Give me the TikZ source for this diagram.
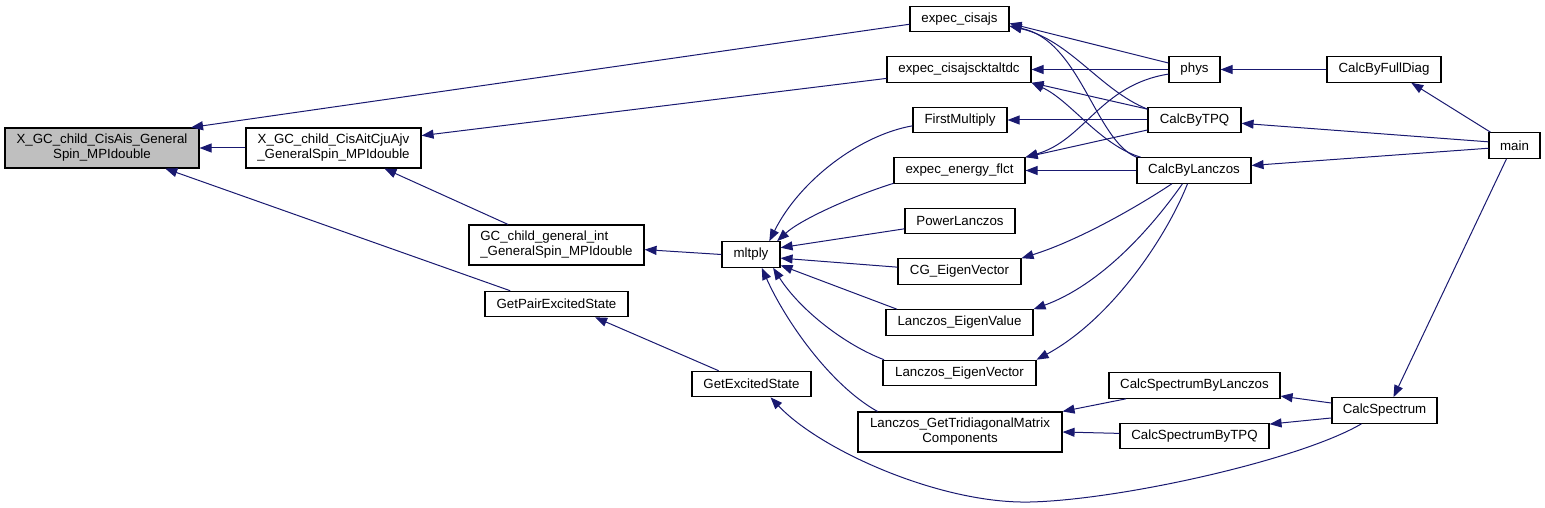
\documentclass[tikz,border=0pt]{standalone}
\usepackage{fontspec}
\setmainfont{Liberation Sans}
\usetikzlibrary{arrows.meta}
\definecolor{edgecol}{HTML}{191970}
\definecolor{fillgray}{HTML}{BFBFBF}
\begin{document}
\begin{tikzpicture}[x=1pt,y=-1pt,
  box/.style={draw=black, line width=1.1pt, fill=white, inner sep=0pt,
    font=\fontsize{13.3}{15}\selectfont, align=center, minimum height=25.5pt},
  tall/.style={minimum height=40pt},
  edge/.style={draw=edgecol, line width=1pt, -{Triangle[length=12pt,width=9pt]}},
]
\useasboundingbox (0,0) rectangle (1545,508);

% nodes
\node[box, tall, fill=fillgray, minimum width=194pt] (cisais) at (102,148) {X\_GC\_child\_CisAis\_General\\Spin\_MPIdouble};
\node[box, tall, minimum width=175pt] (cisait) at (333.5,148) {X\_GC\_child\_CisAitCjuAjv\\\_GeneralSpin\_MPIdouble};
\node[box, tall, minimum width=175pt, align=left] (gcint) at (556.5,245) {GC\_child\_general\_int\\\_GeneralSpin\_MPIdouble};
\node[box, minimum width=143pt] (getpair) at (556.5,304) {GetPairExcitedState};
\node[box, minimum width=119pt] (getexc) at (751.5,384) {GetExcitedState};
\node[box, minimum width=58pt] (mltply) at (751,254.5) {mltply};
\node[box, minimum width=99pt] (cisajs) at (959.5,19) {expec\_cisajs};
\node[box, minimum width=144pt] (cktaltdc) at (959,69.5) {expec\_cisajscktaltdc};
\node[box, minimum width=94pt] (firstmul) at (960,120) {FirstMultiply};
\node[box, minimum width=131pt] (energy) at (959.5,170.5) {expec\_energy\_flct};
\node[box, minimum width=110pt] (power) at (960,221) {PowerLanczos};
\node[box, minimum width=123pt] (cg) at (959.5,271.5) {CG\_EigenVector};
\node[box, minimum width=147pt] (levalue) at (959.5,322.5) {Lanczos\_EigenValue};
\node[box, minimum width=153pt] (levector) at (959.5,373) {Lanczos\_EigenVector};
\node[box, tall, minimum width=204pt] (tridiag) at (960,432) {Lanczos\_GetTridiagonalMatrix\\Components};
\node[box, minimum width=51pt] (phys) at (1194.5,69.5) {phys};
\node[box, minimum width=93pt] (calctpq) at (1194.5,120) {CalcByTPQ};
\node[box, minimum width=114pt] (calclanczos) at (1194,170.5) {CalcByLanczos};
\node[box, minimum width=171pt] (specbylanc) at (1194.5,385.5) {CalcSpectrumByLanczos};
\node[box, minimum width=149pt] (specbytpq) at (1194.5,436) {CalcSpectrumByTPQ};
\node[box, minimum width=114pt] (fulldiag) at (1384,69.5) {CalcByFullDiag};
\node[box, minimum width=105pt] (calcspec) at (1384.5,410.5) {CalcSpectrum};
\node[box, minimum width=51pt] (main) at (1514.5,145.5) {main};

% edges
\draw[edge] (cisait.west) -- (cisais.east);
\draw[edge] (cisajs.186) -- (cisais.13);
\draw[edge] (getpair.164) -- (cisais.-18);
\draw[edge] (cktaltdc.187.5) -- (cisait.8.5);
\draw[edge] (gcint.157) -- (cisait.-22);
\draw[edge] (mltply.west) -- (gcint.-3);
\draw[edge] (getexc.158) -- (getpair.-19);
\draw[edge] (calcspec.210) .. controls (1300,460) and (1120,500) .. (1030,502)
   .. controls (940,504) and (820,450) .. (getexc.-35);
\draw[edge] (firstmul.187) .. controls (860,135) and (800,180) .. (mltply.36);
\draw[edge] (energy.191) .. controls (850,197) and (800,220) .. (mltply.27);
\draw[edge] (power.188) -- (mltply.13);
\draw[edge] (cg.176) -- (mltply.-7);
\draw[edge] (levalue.168) -- (mltply.-20);
\draw[edge] (levector.170) .. controls (845,345) and (800,310) .. (mltply.-31);
\draw[edge] (tridiag.166) .. controls (830,385) and (785,320) .. (mltply.-51);
\draw[edge] (phys.166) -- (cisajs.-5);
\draw[edge] (calctpq.167) .. controls (1100,90) and (1070,40) .. (cisajs.-8);
\draw[edge] (calclanczos.167) .. controls (1095,140) and (1080,40) .. (cisajs.-8);
\draw[edge] (phys.west) -- (cktaltdc.east);
\draw[edge] (calctpq.167) -- (cktaltdc.south east);
\draw[edge] (calclanczos.166) .. controls (1100,145) and (1070,100) .. (cktaltdc.south east);
\draw[edge] (phys.190) .. controls (1100,85) and (1085,140) .. (energy.north east);
\draw[edge] (calctpq.192) -- (energy.north east);
\draw[edge] (calclanczos.west) -- (energy.east);
\draw[edge] (calctpq.west) -- (firstmul.east);
\draw[edge] (calclanczos.211) .. controls (1140,205) and (1080,240) .. (cg.north east);
\draw[edge] (calclanczos.229) .. controls (1150,230) and (1100,285) .. (levalue.north east);
\draw[edge] (calclanczos.244) .. controls (1165,240) and (1110,320) .. (levector.north east);
\draw[edge] (fulldiag.west) -- (phys.east);
\draw[edge] (main.151) -- (fulldiag.-26);
\draw[edge] (main.172) -- (calctpq.-4);
\draw[edge] (main.186) -- (calclanczos.5.5);
\draw[edge] (main.239) -- (calcspec.56);
\draw[edge] (specbylanc.191) -- (tridiag.north east);
\draw[edge] (specbytpq.178) -- (tridiag.east);
\draw[edge] (calcspec.172) -- (specbylanc.-7.7);
\draw[edge] (calcspec.188) -- (specbytpq.9);
\end{tikzpicture}
\end{document}
